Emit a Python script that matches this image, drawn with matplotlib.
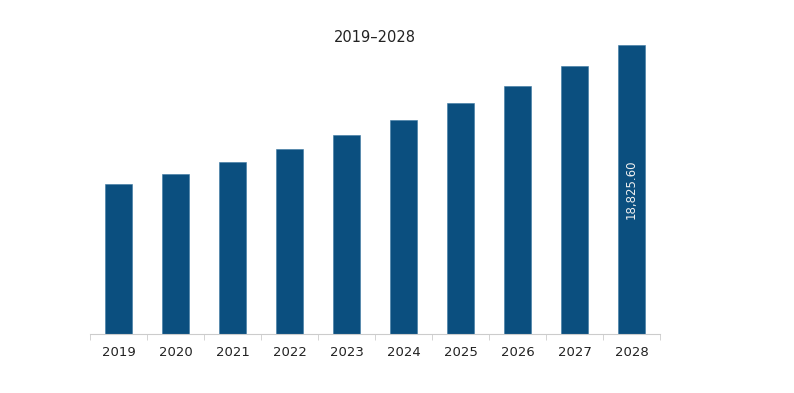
import matplotlib
matplotlib.use("Agg")
import matplotlib.pyplot as plt
import numpy as np

# data
years = ["2019", "2020", "2021", "2022", "2023", "2024", "2025", "2026", "2027", "2028"]
values = [9771, 10423, 11204, 12051, 12963, 13940, 15047, 16155, 17458, 18825.6]
label_text = "18,825.60"

bar_color = "#0b4f7f"

fig = plt.figure(figsize=(7.94, 3.93), dpi=100)
ax = fig.add_axes([90 / 794, (393 - 334) / 393, 570 / 794, (334 - 40) / 393])

x = np.arange(len(years))
ax.bar(x, values, width=0.49, color=bar_color, edgecolor="#3c78a3", linewidth=0.4)

ax.set_xlim(-0.5, len(years) - 0.5)
ax.set_ylim(0, values[-1] * 294 / 289)

# white value label inside the last bar
ax.text(x[-1], values[-1] / 2, label_text, rotation=90, color="#f0f0f0",
        ha="center", va="center", fontsize=8.5)

for s in ["top", "right", "left"]:
    ax.spines[s].set_visible(False)
ax.spines["bottom"].set_color("#cccccc")
ax.set_yticks([])

ax.set_xticks(x)
ax.set_xticklabels(years, fontsize=9.5, color="#222222")
ax.tick_params(axis="x", which="major", length=0, pad=9)
ax.set_xticks(np.arange(-0.5, len(years)), minor=True)
ax.tick_params(axis="x", which="minor", length=4, color="#cccccc")

fig.text(375 / 794, 1 - 38 / 393, "2019–2028", ha="center", va="center",
         fontsize=10.5, color="#222222")

fig.savefig("out.png", dpi=100)
